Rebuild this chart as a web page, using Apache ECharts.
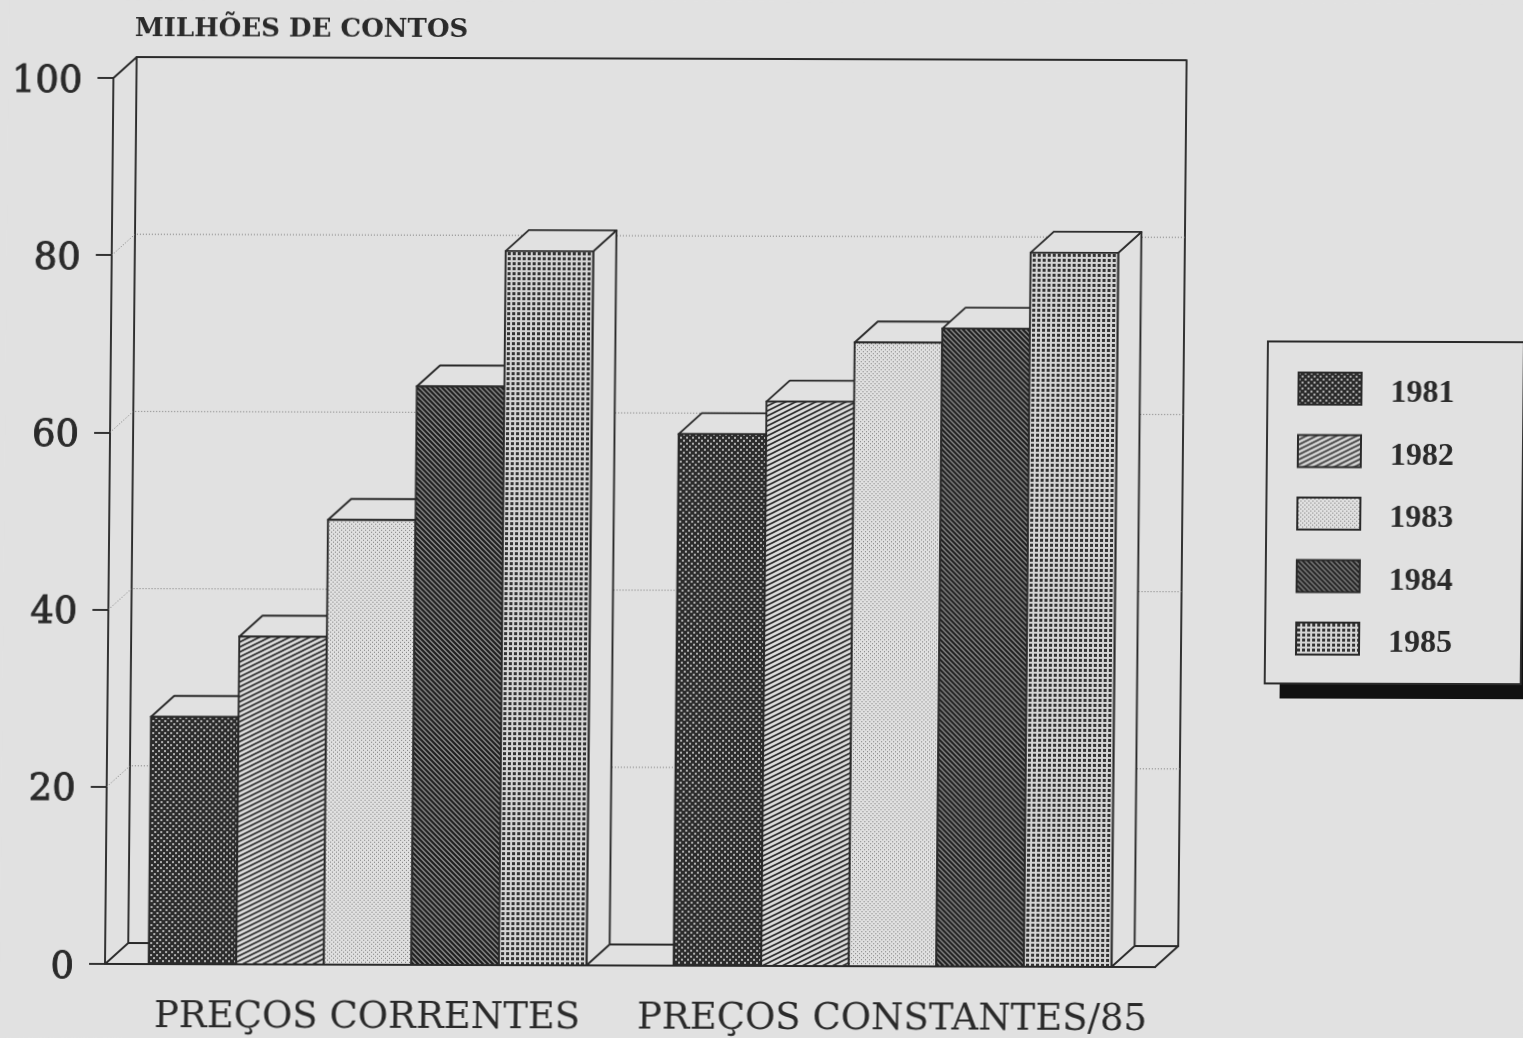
<!DOCTYPE html>
<html>
<head>
<meta charset="utf-8">
<title>Milhões de contos</title>
<script src="https://cdn.jsdelivr.net/npm/echarts@6/dist/echarts.min.js"></script>
<style>
  html, body { margin: 0; padding: 0; background: #e1e1e1; overflow: hidden; }
  /* the scan is slightly sheared */
  #chart { width: 1523px; height: 1038px; transform-origin: 0 0; transform: matrix(1, 0.003, -0.0095, 1, 9.16, -0.33); }
</style>
</head>
<body>
<div id="chart"></div>
<script>
var categories = ['PREÇOS CORRENTES', 'PREÇOS CONSTANTES/85'];
var years = ['1981', '1982', '1983', '1984', '1985'];
var precosCorrentes = [27.9, 37.0, 50.2, 65.3, 80.6];
var precosConstantes = [60.0, 63.7, 70.4, 72.0, 80.6];
var yTicks = [0, 20, 40, 60, 80, 100];

var PAPER = '#e1e1e1';
var INK = '#2a2a2a';
var LINE = 1.9;
var SERIF = '"DejaVu Serif", serif';

// fill tiles for the five years
function tile(w, h, draw) {
    var c = document.createElement('canvas');
    c.width = w;
    c.height = h;
    draw(c.getContext('2d'));
    return { image: c, repeat: 'repeat' };
}
var patterns = [
    tile(6, 6, function (g) {   // dark with light dots
        g.fillStyle = '#2c2c2c'; g.fillRect(0, 0, 6, 6);
        g.fillStyle = '#b0b0b0'; g.fillRect(0, 0, 2, 2); g.fillRect(3, 3, 2, 2);
    }),
    tile(10, 5, function (g) {   // rising hatch
        g.fillStyle = '#dcdcdc'; g.fillRect(0, 0, 10, 5);
        g.strokeStyle = '#2e2e2e'; g.lineWidth = 1.7;
        g.beginPath();
        g.moveTo(-2, 6); g.lineTo(12, -1);
        g.moveTo(-2, 11); g.lineTo(12, 4);
        g.moveTo(-2, 1); g.lineTo(12, -6);
        g.stroke();
    }),
    tile(4, 4, function (g) {   // light stipple
        g.fillStyle = '#e0e0e0'; g.fillRect(0, 0, 4, 4);
        g.fillStyle = '#777777'; g.fillRect(1, 1, 1, 1); g.fillRect(3, 3, 1, 1);
    }),
    tile(5, 5, function (g) {   // falling hatch, dark
        g.fillStyle = '#8a8a8a'; g.fillRect(0, 0, 5, 5);
        g.strokeStyle = '#1e1e1e'; g.lineWidth = 2.1;
        g.beginPath();
        g.moveTo(-1, -1); g.lineTo(6, 6);
        g.moveTo(-6, -1); g.lineTo(1, 6);
        g.moveTo(4, -1); g.lineTo(11, 6);
        g.stroke();
    }),
    tile(5, 5, function (g) {   // lattice of dark squares
        g.fillStyle = '#d4d4d4'; g.fillRect(0, 0, 5, 5);
        g.fillStyle = '#333333'; g.fillRect(1, 1, 3, 3);
    })
];

var DEPTH_X = 23;
var DEPTH_Y = 21;
var GROUP_SHARE = 0.834;   // part of the band taken by the five bars

function poly(points, fill) {
    return {
        type: 'polygon',
        shape: { points: points },
        style: { fill: fill || 'none', stroke: INK, lineWidth: LINE, lineJoin: 'round' }
    };
}

function renderBar(yearIndex, params, api) {
    var center = api.coord([api.value(0), 0]);
    var top = api.coord([api.value(0), api.value(1)]);
    var band = api.size([1, 0])[0];
    var w = band * GROUP_SHARE / years.length;
    var x0 = center[0] - band * GROUP_SHARE / 2 + w * yearIndex;
    var x1 = x0 + w;
    var y0 = center[1];
    var y1 = top[1];
    return {
        type: 'group',
        children: [
            poly([[x1, y1], [x1 + DEPTH_X, y1 - DEPTH_Y], [x1 + DEPTH_X, y0 - DEPTH_Y], [x1, y0]], PAPER),
            poly([[x0, y1], [x0 + DEPTH_X, y1 - DEPTH_Y], [x1 + DEPTH_X, y1 - DEPTH_Y], [x1, y1]], PAPER),
            {
                type: 'rect',
                shape: { x: x0, y: y1, width: w, height: y0 - y1 },
                style: { fill: patterns[yearIndex], stroke: INK, lineWidth: LINE }
            }
        ]
    };
}

// back wall, side wall and floor, with the dotted grid lines
function renderWalls(params, api) {
    var s = params.coordSys;
    var left = s.x, right = s.x + s.width, top = s.y, bottom = s.y + s.height;
    var children = [
        poly([[left + DEPTH_X, bottom - DEPTH_Y], [left + DEPTH_X, top - DEPTH_Y], [right + DEPTH_X, top - DEPTH_Y], [right + DEPTH_X, bottom - DEPTH_Y]]),
        poly([[left, top], [left + DEPTH_X, top - DEPTH_Y]]),
        poly([[left, bottom], [left + DEPTH_X, bottom - DEPTH_Y]]),
        poly([[right, bottom], [right + DEPTH_X, bottom - DEPTH_Y]])
    ];
    yTicks.slice(1, -1).forEach(function (t) {
        var y = api.coord([0, t])[1];
        children.push({
            type: 'polyline',
            shape: { points: [[left, y], [left + DEPTH_X, y - DEPTH_Y], [right + DEPTH_X, y - DEPTH_Y]] },
            style: { fill: 'none', stroke: '#777', lineWidth: 1, lineDash: [1, 2] }
        });
    });
    return { type: 'group', children: children };
}

var series = [{
    type: 'custom',
    name: 'walls',
    z: 1,
    silent: true,
    clip: false,
    data: [[0, 0]],
    renderItem: renderWalls
}];
years.forEach(function (year, i) {
    series.push({
        type: 'custom',
        name: year,
        z: 2 + i,
        clip: false,
        itemStyle: { color: patterns[i], borderColor: INK, borderWidth: LINE },
        data: [[0, precosCorrentes[i]], [1, precosConstantes[i]]],
        renderItem: function (params, api) { return renderBar(i, params, api); }
    });
});

var chart = echarts.init(document.getElementById('chart'), null, { renderer: 'canvas' });
chart.setOption({
    animation: false,
    backgroundColor: PAPER,
    title: {
        text: 'MILHÕES DE CONTOS',
        left: 126,
        top: 16,
        padding: 0,
        textStyle: { fontFamily: SERIF, fontSize: 26, fontWeight: 'bold', color: INK }
    },
    grid: { left: 105, top: 78, width: 1050, height: 886 },
    // shadow of the legend box
    graphic: [{
        type: 'rect',
        z: 5,
        shape: { x: 1277, y: 354, width: 270, height: 341 },
        style: { fill: '#111' }
    }],
    legend: {
        z: 10,
        data: years,
        icon: 'rect',
        orient: 'vertical',
        left: 1262,
        top: 338,
        padding: [30, 69, 24, 30],
        itemWidth: 63,
        itemHeight: 32,
        itemGap: 24.5,
        backgroundColor: PAPER,
        borderColor: INK,
        borderWidth: LINE,
        selectedMode: false,
        formatter: '{a|{name}}',
        textStyle: {
            padding: [0, 0, 0, 24],
            rich: {
                a: {
                    fontFamily: '"Liberation Serif", serif',
                    fontSize: 32,
                    fontWeight: 'bold',
                    color: INK,
                    padding: [10, 0, 0, 0]
                }
            }
        }
    },
    xAxis: {
        type: 'category',
        data: categories,
        axisLine: { lineStyle: { color: INK, width: LINE } },
        axisTick: { alignWithLabel: true, length: 16, lineStyle: { color: INK, width: LINE } },
        axisLabel: { interval: 0, margin: 35, fontFamily: SERIF, fontSize: 37, color: INK }
    },
    yAxis: {
        type: 'value',
        min: 0,
        max: 100,
        interval: 20,
        axisLine: { show: true, lineStyle: { color: INK, width: LINE } },
        axisTick: { show: true, length: 16, lineStyle: { color: INK, width: LINE } },
        splitLine: { show: false },
        axisLabel: {
            margin: 31,
            formatter: '{a|{value}}',
            rich: {
                a: {
                    fontFamily: SERIF,
                    fontSize: 37,
                    color: INK,
                    textBorderColor: INK,
                    textBorderWidth: 0.9,
                    padding: [8, 0, 0, 0]
                }
            }
        }
    },
    series: series
});
</script>
</body>
</html>
